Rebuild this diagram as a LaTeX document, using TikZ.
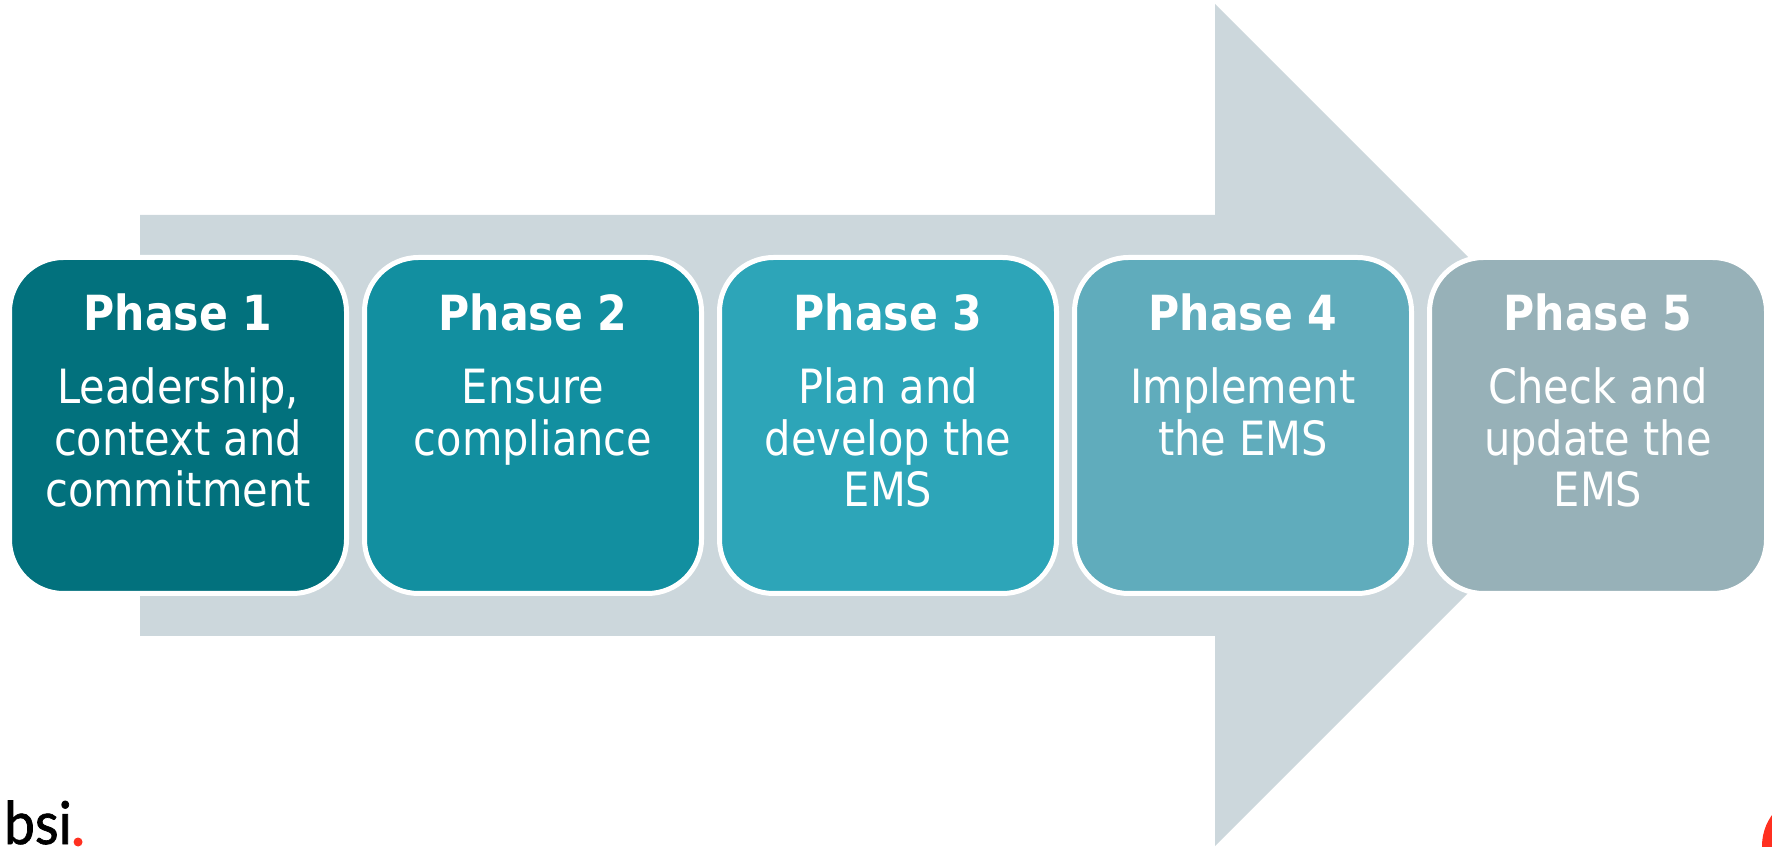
\documentclass[tikz,border=0pt]{standalone}
\usepackage{fontspec}
\setmainfont{DejaVu Sans}[FakeStretch=0.88]
\newfontfamily\logofont{Lato}[FakeStretch=0.93,FakeBold=1.2]
\usetikzlibrary{positioning}
\definecolor{arrowgrey}{HTML}{CCD7DC}
\definecolor{phaseone}{HTML}{02717D}
\definecolor{phasetwo}{HTML}{128FA0}
\definecolor{phasethree}{HTML}{2DA5B8}
\definecolor{phasefour}{HTML}{60ACBC}
\definecolor{phasefive}{HTML}{97B1B8}
\definecolor{bsired}{HTML}{FF3020}
\tikzset{
  phasebox/.style={draw=white, line width=5pt, rounded corners=54pt, inner sep=0pt, outer sep=0pt,
    minimum width=337pt, minimum height=336pt, text=white, font=\fontsize{47.2}{51.5}\selectfont}
}
\newcommand{\phasetext}[2]{\parbox[c][296pt][t]{330pt}{\centering\vspace{16pt}{\fontsize{48.4}{51.5}\selectfont\textbf{#1}}\\[22pt]#2}}

\begin{document}
\begin{tikzpicture}[x=1pt,y=1pt]
  \useasboundingbox (0,0) rectangle (1772,846);
  % the big arrow
  \fill[arrowgrey] (140,631) -- (1215,631) -- (1215,842) -- (1636,421) -- (1215,0) -- (1215,210) -- (140,210) -- cycle;
  % five boxes
  \node[phasebox, fill=phaseone, anchor=north west] (p1) at (9.5,588.5) {\phasetext{Phase 1}{Leadership,\\context and\\commitment}};
  \node[phasebox, fill=phasetwo, right=18pt of p1] (p2) {\phasetext{Phase 2}{Ensure\\compliance}};
  \node[phasebox, fill=phasethree, right=18pt of p2] (p3) {\phasetext{Phase 3}{Plan and\\develop the\\EMS}};
  \node[phasebox, fill=phasefour, right=18pt of p3] (p4) {\phasetext{Phase 4}{Implement\\the EMS}};
  \node[phasebox, fill=phasefive, right=18pt of p4] (p5) {\phasetext{Phase 5}{Check and\\update the\\EMS}};
  % logo and the red corner
  \node[anchor=base west, inner sep=0pt, text=black, font=\logofont\fontsize{59}{59}\selectfont] (logo) at (4,2) {bsi};
  \fill[bsired] (logo.base east) ++(6,2) circle (4.5);
  \fill[bsired] (1815,0) circle (53);
\end{tikzpicture}
\end{document}
